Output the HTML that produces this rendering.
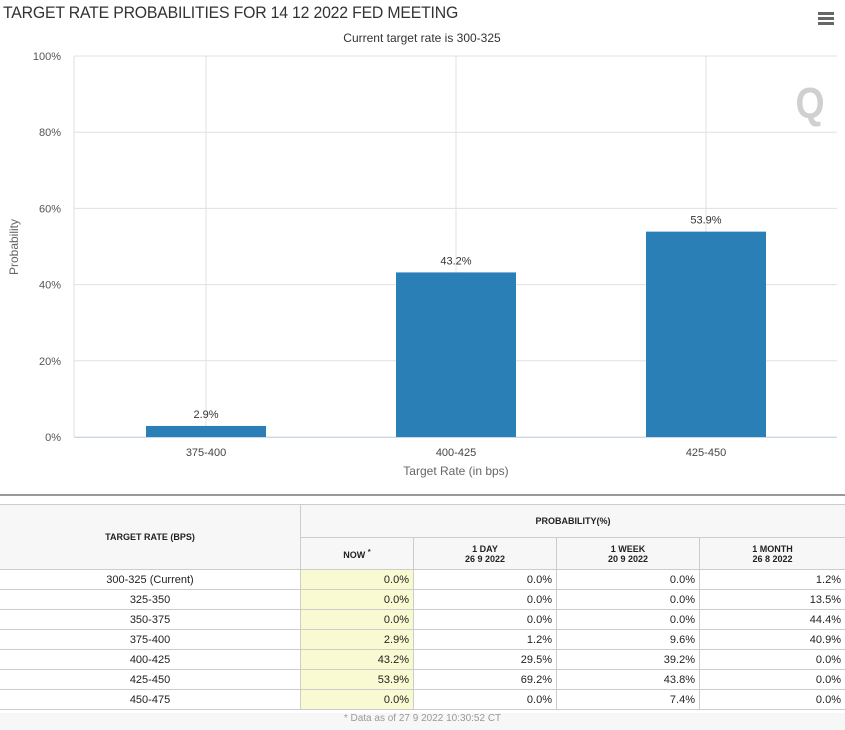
<!DOCTYPE html>
<html><head><meta charset="utf-8"><style>
body{margin:0;width:845px;height:730px;background:#fff;font-family:"Liberation Sans",sans-serif;overflow:hidden;position:relative}
#title{position:absolute;left:3px;top:3px;font-size:17px;color:#333;letter-spacing:-0.2px;transform:scaleX(0.93);transform-origin:left}
#menu{position:absolute;left:818px;top:12px;width:16px}
#menu div{height:3px;background:#666;margin-bottom:2px}
table{position:absolute;left:-1px;top:504px;border-collapse:collapse;font-size:11px;color:#222;width:847px}
td,th{border:1px solid #ccc;padding:0 4px;height:19px}
th{background:#f7f7f7;font-size:9px;font-weight:bold}
td.r{text-align:right}td.c{text-align:center}
td.now{background:#f9f9d2}
#sep{position:absolute;left:0;top:494px;width:845px;height:2px;background:#999}
#foot{position:absolute;left:0;top:713px;width:845px;height:17px;background:#f7f7f7;text-align:center;font-size:10px;color:#999}
</style></head><body>
<div id="title">TARGET RATE PROBABILITIES FOR 14 12 2022 FED MEETING</div>
<div id="menu"><div></div><div></div><div></div></div>
<svg id="chart" width="845" height="490" style="position:absolute;left:0;top:0" font-family="Liberation Sans, sans-serif"></svg>
<div id="sep"></div>
<table>
<tr><th rowspan="2" style="width:292px">TARGET RATE (BPS)</th><th colspan="4" style="height:32px">PROBABILITY(%)</th></tr>
<tr><th style="width:104px;height:31px">NOW <sup>*</sup></th><th style="width:134px">1 DAY<br>26 9 2022</th><th style="width:134px">1 WEEK<br>20 9 2022</th><th>1 MONTH<br>26 8 2022</th></tr>
<tbody id="tb"></tbody>
</table>
<div id="foot">* Data as of 27 9 2022 10:30:52 CT</div>
<script>
const categories=["375-400","400-425","425-450"];
const values=[2.9,43.2,53.9];
const yTicks=[0,20,40,60,80,100];
const rates=["300-325 (Current)","325-350","350-375","375-400","400-425","425-450","450-475"];
const nowCol=["0.0%","0.0%","0.0%","2.9%","43.2%","53.9%","0.0%"];
const dayCol=["0.0%","0.0%","0.0%","1.2%","29.5%","69.2%","0.0%"];
const weekCol=["0.0%","0.0%","0.0%","9.6%","39.2%","43.8%","7.4%"];
const monthCol=["1.2%","13.5%","44.4%","40.9%","0.0%","0.0%","0.0%"];

const svg=document.getElementById('chart');const NS="http://www.w3.org/2000/svg";
function mk(t,a,txt){const e=document.createElementNS(NS,t);for(const k in a)e.setAttribute(k,a[k]);if(txt!=null)e.textContent=txt;svg.appendChild(e);return e;}
const x0=74,x1=837,yTop=56,yBot=437;
const y=v=>yBot-(v/100)*(yBot-yTop);
const xc=i=>206+250*i;
let e;
e=mk('text',{x:422,y:42,'text-anchor':'middle','font-size':12,fill:'#333'},'Current target rate is 300-325');


yTicks.forEach(t=>{
 e=mk('line',{x1:x0,x2:x1,y1:y(t),y2:y(t),stroke:'#e0e0e0'});
 
 
 e=mk('text',{x:61,y:y(t)+4,'text-anchor':'end','font-size':11,fill:'#555'},t+'%');
 
 
});
categories.forEach((c,i)=>{
 e=mk('line',{x1:xc(i),x2:xc(i),y1:yTop,y2:yBot,stroke:'#e0e0e0'});
 
 
});
mk('line',{x1:x0,x2:x0,y1:yTop,y2:yBot,stroke:'#e0e0e0'});
e=mk('text',{x:810,y:118,'text-anchor':'middle','font-size':44,'font-weight':'bold',fill:'#d0d0d0',transform:'translate(810 0) scale(0.85 1) translate(-810 0)'},'Q');


categories.forEach((c,i)=>{
 e=mk('rect',{x:xc(i)-60,y:y(values[i]),width:120,height:yBot-y(values[i]),fill:'#2a7fb7'});
 
 
 e=mk('text',{x:xc(i),y:y(values[i])-8,'text-anchor':'middle','font-size':11,fill:'#333'},values[i].toFixed(1)+'%');
 
 
 e=mk('text',{x:xc(i),y:456,'text-anchor':'middle','font-size':11,fill:'#444'},c);
 
 
});
mk('line',{x1:x0,x2:x1,y1:yBot+0.5,y2:yBot+0.5,stroke:'#ccd6eb'});
e=mk('text',{x:456,y:475,'text-anchor':'middle','font-size':12,fill:'#666'},'Target Rate (in bps)');


e=mk('text',{x:18,y:247,'text-anchor':'middle','font-size':12,fill:'#666',transform:'rotate(-90 18 247)'},'Probability');



const tb=document.getElementById('tb');
rates.forEach((r,i)=>{
 const tr=document.createElement('tr');
 
 
 tr.innerHTML=`<td class="c">${r}</td><td class="r now">${nowCol[i]}</td><td class="r">${dayCol[i]}</td><td class="r">${weekCol[i]}</td><td class="r">${monthCol[i]}</td>`;
 tb.appendChild(tr);
});
</script>
</body></html>
